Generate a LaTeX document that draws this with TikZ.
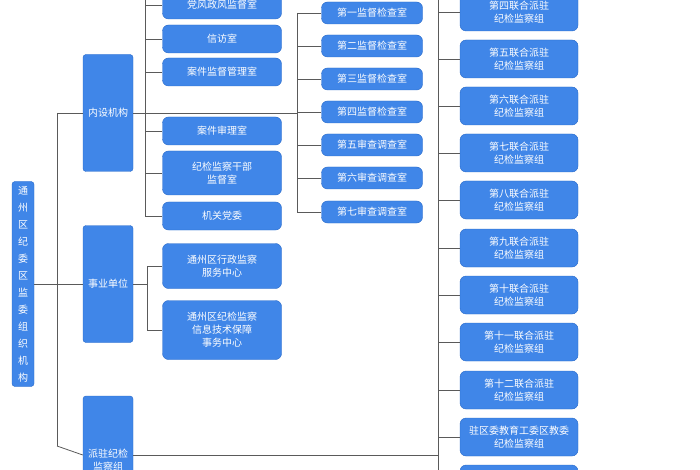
\documentclass[tikz,border=0pt]{standalone}
\usepackage{fontspec}
\newfontfamily\cjk{Noto Sans CJK SC}
\usetikzlibrary{positioning}
\definecolor{boxblue}{RGB}{64,134,232}
\definecolor{boxedge}{RGB}{40,105,200}
\definecolor{linegrey}{RGB}{90,90,90}

\tikzset{
  unit/.style={draw=boxedge, fill=boxblue, rounded corners=6pt, text=white,
    font=\cjk\fontsize{10}{13}\selectfont, align=center, inner sep=1pt},
  dept/.style={unit, minimum width=119pt, minimum height=28pt},
  room/.style={unit, minimum width=101pt, minimum height=22pt},
  group/.style={unit, minimum width=118pt, minimum height=38pt},
  branch/.style={unit, rounded corners=3pt, minimum width=50pt},
  link/.style={draw=linegrey, line width=0.8pt}
}

\begin{document}
\begin{tikzpicture}[x=1pt,y=-1pt]
\useasboundingbox (0,0) rectangle (700,470);

% root
\node[unit, rounded corners=3pt, minimum width=22pt, minimum height=205pt,
  font=\cjk\fontsize{10}{17}\selectfont] (root) at (23,284)
  {通\\州\\区\\纪\\委\\区\\监\\委\\组\\织\\机\\构};

% second level
\node[branch, minimum height=117pt] (neishe) at (108,113) {内设机构};
\node[branch, minimum height=117pt] (shiye) at (108,284) {事业单位};
\node[branch, minimum height=100pt, text depth=0pt] (paizhu) at (108,446)
  {\\[22pt]派驻纪检\\监察组};

% offices under neishe
\node[dept] (dfzf) at (222,5) {党风政风监督室};
\node[dept] (xinfang) at (222,39) {信访室};
\node[dept] (ajjd) at (222,72) {案件监督管理室};
\node[dept] (ajsl) at (222,131) {案件审理室};
\node[dept, minimum height=44pt] (gbjd) at (222,173) {纪检监察干部\\监督室};
\node[dept] (jgdw) at (222,216) {机关党委};

% inspection rooms
\foreach \name/\y [count=\i] in {第一监督检查室/13, 第二监督检查室/46,
  第三监督检查室/79, 第四监督检查室/112, 第五审查调查室/145,
  第六审查调查室/178, 第七审查调查室/212}
  \node[room] (room\i) at (372,\y) {\name};

% service centres
\node[dept, minimum height=45pt] (fwzx) at (222,266) {通州区行政监察\\服务中心};
\node[dept, minimum height=59pt] (xxzx) at (222,330) {通州区纪检监察\\信息技术保障\\事务中心};

% joint groups
\foreach \name/\y [count=\i] in {第四/12, 第五/59, 第六/106, 第七/153, 第八/200,
  第九/248, 第十/295, 第十一/342, 第十二/390}
  \node[group] (grp\i) at (519,\y) {\name 联合派驻\\纪检监察组};
\node[group] (grp10) at (519,437) {驻区委教育工委区教委\\纪检监察组};
\node[group] (grp11) at (519,484) {};

% bus coordinates
\coordinate (busA) at (57,0);
\coordinate (busB) at (145,0);
\coordinate (busC) at (297,0);
\coordinate (busD) at (147,0);
\coordinate (busE) at (438,0);

% connectors
\draw[link] (root.east) -- (shiye.west);
\draw[link] (busA |- neishe) -- (busA |- paizhu.center);
\draw[link] (busA |- neishe) -- (neishe.west);
\draw[link] (busA |- paizhu.center) -- (paizhu.west |- 0,455);
\draw[link] (paizhu.east |- 0,455) -- (busE |- 0,455);
\draw[link] (neishe.east) -- (busC |- neishe);
\draw[link] (busB |- dfzf.north) -- (busB |- jgdw);
\foreach \n in {dfzf,xinfang,ajjd,ajsl,gbjd,jgdw}
  \draw[link] (busB |- \n) -- (\n.west);
\draw[link] (busC |- room1) -- (busC |- room7);
\foreach \i in {1,...,7}
  \draw[link] (busC |- room\i) -- (room\i.west);
\draw[link] (shiye.east) -- (busD |- shiye);
\draw[link] (busD |- fwzx) -- (busD |- xxzx);
\foreach \n in {fwzx,xxzx}
  \draw[link] (busD |- \n) -- (\n.west);
\draw[link] (busE |- grp1.north) -- (busE |- grp11);
\foreach \i in {1,...,11}
  \draw[link] (busE |- grp\i) -- (grp\i.west);
\end{tikzpicture}
\end{document}
